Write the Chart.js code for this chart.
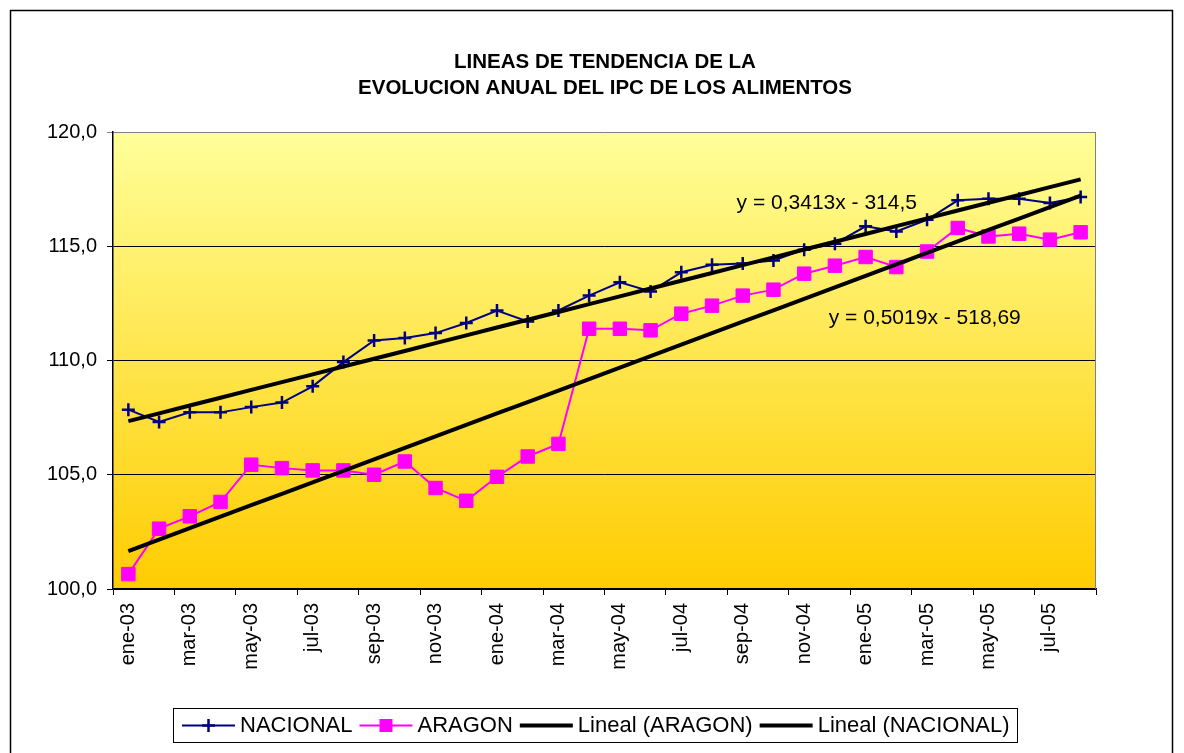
<!DOCTYPE html>
<html>
<head>
<meta charset="utf-8">
<script src="https://cdn.jsdelivr.net/npm/chart.js@4/dist/chart.umd.min.js"></script>
<style>
  html, body { margin: 0; padding: 0; background: #ffffff; }
  #wrap { width: 1184px; height: 753px; position: relative; }
  canvas { display: block; }
</style>
</head>
<body>
<div id="wrap"><canvas id="c" width="1184" height="753"></canvas></div>
<script>
// Meses (enero 2003 - agosto 2005)
const categories = [
  'ene-03','feb-03','mar-03','abr-03','may-03','jun-03','jul-03','ago-03','sep-03','oct-03','nov-03','dic-03',
  'ene-04','feb-04','mar-04','abr-04','may-04','jun-04','jul-04','ago-04','sep-04','oct-04','nov-04','dic-04',
  'ene-05','feb-05','mar-05','abr-05','may-05','jun-05','jul-05','ago-05'
];

// Índice de precios de alimentos
const nacional = [
  107.85, 107.31, 107.73, 107.73, 107.96, 108.16, 108.87, 109.93, 110.88, 110.98, 111.20, 111.64,
  112.19, 111.71, 112.19, 112.84, 113.42, 113.02, 113.86, 114.19, 114.24, 114.38, 114.85, 115.11,
  115.87, 115.65, 116.16, 117.01, 117.08, 117.08, 116.89, 117.16
];
const aragon = [
  100.65, 102.64, 103.18, 103.81, 105.44, 105.29, 105.19, 105.19, 105.00, 105.58, 104.42, 103.86,
  104.91, 105.80, 106.35, 111.39, 111.39, 111.32, 112.05, 112.40, 112.84, 113.10, 113.80, 114.15,
  114.53, 114.09, 114.77, 115.80, 115.43, 115.55, 115.29, 115.61
];

// Líneas de tendencia (x = meses desde enero de 1900)
const trendNacional = { slope: 0.3413, intercept: -314.5 };
const trendAragon = { slope: 0.5019, intercept: -518.69 };

const yTicks = [100, 105, 110, 115, 120];
const monthNames = ['ene','feb','mar','abr','may','jun','jul','ago','sep','oct','nov','dic'];

function monthSerial(label) {
  const m = monthNames.indexOf(label.slice(0, 3));
  const year = 2000 + parseInt(label.slice(4), 10);
  return (year - 1900) * 12 + m;
}
function trendSeries(t) {
  return categories.map(c => t.slope * monthSerial(c) + t.intercept);
}
const fmt = v => v.toFixed(1).replace('.', ',');

const FONT = "'Liberation Sans', Arial, Helvetica, sans-serif";

const datasets = [
  {
    label: 'NACIONAL', data: nacional,
    borderColor: '#000080', backgroundColor: '#000080', borderWidth: 2,
    pointStyle: 'cross', pointRadius: 6.5, pointBorderWidth: 2.5,
    pointBorderColor: '#000080', pointBackgroundColor: '#000080',
    tension: 0, order: 2
  },
  {
    label: 'ARAGON', data: aragon,
    borderColor: '#FF00FF', backgroundColor: '#FF00FF', borderWidth: 2,
    pointStyle: 'rect', pointRadius: 9.5, pointBorderWidth: 1,
    pointBorderColor: '#FF00FF', pointBackgroundColor: '#FF00FF',
    tension: 0, order: 1
  },
  {
    label: 'Lineal (ARAGON)', data: trendSeries(trendAragon),
    borderColor: '#000000', borderWidth: 4, pointRadius: 0, tension: 0, order: 0
  },
  {
    label: 'Lineal (NACIONAL)', data: trendSeries(trendNacional),
    borderColor: '#000000', borderWidth: 4, pointRadius: 0, tension: 0, order: 0
  }
];

// Fondo degradado del área de trazado y borde gris del área
const plotBackground = {
  id: 'plotBackground',
  beforeDraw(chart) {
    const { ctx, chartArea: a } = chart;
    ctx.save();
    ctx.fillStyle = '#ffffff';
    ctx.fillRect(0, 0, chart.width, chart.height);
    const g = ctx.createLinearGradient(0, a.top, 0, a.bottom);
    g.addColorStop(0, '#FFFF99');
    g.addColorStop(1, '#FFCC00');
    ctx.fillStyle = g;
    ctx.fillRect(a.left, a.top, a.right - a.left, a.bottom - a.top);
    ctx.restore();
  },
  beforeDatasetsDraw(chart) {
    const { ctx, chartArea: a } = chart;
    ctx.save();
    ctx.strokeStyle = '#808080';
    ctx.lineWidth = 1;
    ctx.beginPath();
    ctx.moveTo(a.right - 0.5, a.top);
    ctx.lineTo(a.right - 0.5, a.bottom);
    ctx.stroke();
    ctx.restore();
  }
};

// Título, ecuaciones de tendencia, leyenda y marco exterior
const decorations = {
  id: 'decorations',
  afterDraw(chart) {
    const { ctx } = chart;
    const xs = chart.scales.x, ys = chart.scales.y;
    ctx.save();

    // marco exterior
    ctx.strokeStyle = '#000';
    ctx.lineWidth = 1.5;
    ctx.strokeRect(10.5, 10.5, 1162, 770);

    // título
    ctx.fillStyle = '#000';
    ctx.textAlign = 'center';
    ctx.textBaseline = 'middle';
    ctx.font = 'bold 20.5px ' + FONT;
    ctx.fillText('LINEAS DE TENDENCIA DE LA', 605, 62);
    ctx.fillText('EVOLUCION ANUAL DEL IPC DE LOS ALIMENTOS', 605, 88);

    // ecuaciones
    ctx.font = '21px ' + FONT;
    ctx.textAlign = 'left';
    ctx.fillText('y = 0,3413x - 314,5', xs.getPixelForValue(19.8), ys.getPixelForValue(116.9));
    ctx.fillText('y = 0,5019x - 518,69', xs.getPixelForValue(22.8), ys.getPixelForValue(111.87));

    // leyenda
    const boxL = 173, boxT = 708, boxR = 1017, boxB = 742;
    ctx.lineWidth = 1;
    ctx.strokeStyle = '#000';
    ctx.fillStyle = '#fff';
    ctx.fillRect(boxL, boxT, boxR - boxL, boxB - boxT);
    ctx.strokeRect(boxL + 0.5, boxT + 0.5, boxR - boxL, boxB - boxT);
    const cy = (boxT + boxB) / 2 + 0.5;
    let x = 182;
    ctx.font = '22px ' + FONT;
    ctx.textBaseline = 'middle';
    chart.data.datasets.forEach(ds => {
      const w = 53;
      ctx.strokeStyle = ds.borderColor;
      ctx.lineWidth = ds.borderWidth;
      ctx.beginPath();
      ctx.moveTo(x, cy);
      ctx.lineTo(x + w, cy);
      ctx.stroke();
      const mx = x + w / 2;
      if (ds.pointStyle === 'cross') {
        ctx.lineWidth = ds.pointBorderWidth;
        ctx.beginPath();
        ctx.moveTo(mx, cy - 6.5); ctx.lineTo(mx, cy + 6.5);
        ctx.moveTo(mx - 6.5, cy); ctx.lineTo(mx + 6.5, cy);
        ctx.stroke();
      } else if (ds.pointStyle === 'rect') {
        ctx.fillStyle = ds.pointBackgroundColor;
        ctx.fillRect(mx - 6.5, cy - 6.5, 13, 13);
      }
      ctx.fillStyle = '#000';
      ctx.fillText(ds.label, x + w + 5, cy);
      x += w + 5 + ctx.measureText(ds.label).width + 7;
    });

    ctx.restore();
  }
};

new Chart(document.getElementById('c'), {
  type: 'line',
  data: { labels: categories, datasets },
  options: {
    responsive: false,
    animation: false,
    devicePixelRatio: 1,
    layout: { padding: { left: 13, right: 88, top: 132, bottom: 64 } },
    plugins: {
      legend: { display: false },
      title: { display: false },
      tooltip: { enabled: false }
    },
    scales: {
      x: {
        offset: true,
        grid: {
          display: true,
          drawOnChartArea: false,
          offset: true,
          tickLength: 6,
          lineWidth: 1,
          color: c => (c.index === undefined || c.index % 2 === 0) ? '#000' : 'rgba(0,0,0,0)'
        },
        border: { display: true, color: '#000', width: 1.5 },
        ticks: {
          autoSkip: false,
          maxRotation: 90,
          minRotation: 90,
          padding: 8,
          color: '#000',
          font: { family: FONT, size: 20 },
          callback: (v, i) => (i % 2 === 0 ? categories[i] : '')
        },
        afterFit: s => { s.height = 100; }
      },
      y: {
        min: 100,
        max: 120,
        afterBuildTicks: s => { s.ticks = yTicks.map(v => ({ value: v })); },
        ticks: {
          padding: 10,
          color: '#000',
          font: { family: FONT, size: 20 },
          callback: v => fmt(v)
        },
        grid: {
          tickLength: 6,
          lineWidth: 1,
          color: c => (c.tick && c.tick.value === 120) ? '#808080' : '#000'
        },
        border: { display: true, color: '#000', width: 1.5 },
        afterFit: s => { s.width = 100; }
      }
    }
  },
  plugins: [plotBackground, decorations]
});
</script>
</body>
</html>
